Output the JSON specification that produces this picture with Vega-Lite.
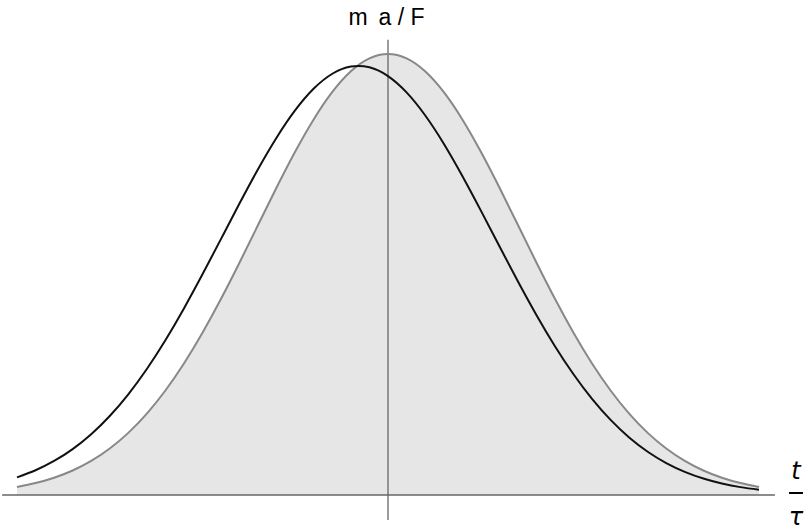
{
  "$schema": "https://vega.github.io/schema/vega-lite/v6.json",
  "width": 808,
  "height": 530,
  "padding": 0,
  "autosize": "none",
  "background": "white",
  "config": {"view": {"stroke": null}},
  "datasets": {
    "curves": [
      {"t": -2.0, "g": 0.01832, "b": 0.0400},
      {"t": -1.9, "g": 0.02705, "b": 0.0561},
      {"t": -1.8, "g": 0.03916, "b": 0.0771},
      {"t": -1.7, "g": 0.05558, "b": 0.1041},
      {"t": -1.6, "g": 0.07730, "b": 0.1378},
      {"t": -1.5, "g": 0.10540, "b": 0.1791},
      {"t": -1.4, "g": 0.14086, "b": 0.2284},
      {"t": -1.3, "g": 0.18452, "b": 0.2858},
      {"t": -1.2, "g": 0.23693, "b": 0.3510},
      {"t": -1.1, "g": 0.29820, "b": 0.4231},
      {"t": -1.0, "g": 0.36788, "b": 0.5004},
      {"t": -0.9, "g": 0.44486, "b": 0.5807},
      {"t": -0.8, "g": 0.52729, "b": 0.6614},
      {"t": -0.7, "g": 0.61263, "b": 0.7392},
      {"t": -0.6, "g": 0.69768, "b": 0.8107},
      {"t": -0.5, "g": 0.77880, "b": 0.8725},
      {"t": -0.4, "g": 0.85214, "b": 0.9216},
      {"t": -0.3, "g": 0.91393, "b": 0.9552},
      {"t": -0.2, "g": 0.96079, "b": 0.9715},
      {"t": -0.1, "g": 0.99005, "b": 0.9697},
      {"t": 0.0, "g": 1.0, "b": 0.9498},
      {"t": 0.1, "g": 0.99005, "b": 0.9129},
      {"t": 0.2, "g": 0.96079, "b": 0.8611},
      {"t": 0.3, "g": 0.91393, "b": 0.7971},
      {"t": 0.4, "g": 0.85214, "b": 0.7240},
      {"t": 0.5, "g": 0.77880, "b": 0.6454},
      {"t": 0.6, "g": 0.69768, "b": 0.5645},
      {"t": 0.7, "g": 0.61263, "b": 0.4846},
      {"t": 0.8, "g": 0.52729, "b": 0.4082},
      {"t": 0.9, "g": 0.44486, "b": 0.3374},
      {"t": 1.0, "g": 0.36788, "b": 0.2737},
      {"t": 1.1, "g": 0.29820, "b": 0.2179},
      {"t": 1.2, "g": 0.23693, "b": 0.1702},
      {"t": 1.3, "g": 0.18452, "b": 0.1305},
      {"t": 1.4, "g": 0.14086, "b": 0.0981},
      {"t": 1.5, "g": 0.10540, "b": 0.0724},
      {"t": 1.6, "g": 0.07730, "b": 0.0525},
      {"t": 1.7, "g": 0.05558, "b": 0.0373},
      {"t": 1.8, "g": 0.03916, "b": 0.0260},
      {"t": 1.9, "g": 0.02705, "b": 0.0178},
      {"t": 2.0, "g": 0.01832, "b": 0.0120}
    ],
    "one": [{}]
  },
  "layer": [
    {
      "data": {"name": "curves"},
      "mark": {"type": "area", "color": "#e6e6e6", "interpolate": "natural"},
      "encoding": {
        "x": {"field": "t", "type": "quantitative", "scale": {"domain": [-2.0916, 2.2642], "nice": false, "zero": false}, "axis": null},
        "y": {"field": "g", "type": "quantitative", "scale": {"domain": [-0.0794, 1.1224], "nice": false, "zero": false}, "axis": null},
        "y2": {"datum": 0}
      }
    },
    {
      "data": {"name": "one"},
      "mark": {"type": "rule", "color": "#666666", "strokeWidth": 1.3},
      "encoding": {
        "x": {"datum": -2.08, "type": "quantitative"},
        "x2": {"datum": 2.086},
        "y": {"datum": 0, "type": "quantitative"}
      }
    },
    {
      "data": {"name": "one"},
      "mark": {"type": "rule", "color": "#666666", "strokeWidth": 1.3},
      "encoding": {
        "x": {"datum": 0, "type": "quantitative"},
        "y": {"datum": -0.057, "type": "quantitative"},
        "y2": {"datum": 1.032}
      }
    },
    {
      "data": {"name": "curves"},
      "mark": {"type": "line", "color": "#888888", "strokeWidth": 2, "interpolate": "natural"},
      "encoding": {
        "x": {"field": "t", "type": "quantitative"},
        "y": {"field": "g", "type": "quantitative"}
      }
    },
    {
      "data": {"name": "curves"},
      "mark": {"type": "line", "color": "#111111", "strokeWidth": 2, "interpolate": "natural"},
      "encoding": {
        "x": {"field": "t", "type": "quantitative"},
        "y": {"field": "b", "type": "quantitative"}
      }
    },
    {
      "data": {"name": "one"},
      "mark": {"type": "text", "text": "m \u2009a / F", "font": "Liberation Sans", "fontSize": 23, "color": "#000000", "align": "center", "baseline": "alphabetic"},
      "encoding": {
        "x": {"datum": -0.008, "type": "quantitative"},
        "y": {"datum": 1.066, "type": "quantitative"}
      }
    },
    {
      "data": {"name": "one"},
      "mark": {"type": "text", "text": "t", "font": "DejaVu Sans", "fontStyle": "italic", "fontSize": 24, "color": "#000000", "align": "center", "baseline": "alphabetic"},
      "encoding": {
        "x": {"datum": 2.1995, "type": "quantitative"},
        "y": {"datum": 0.0363, "type": "quantitative"}
      }
    },
    {
      "data": {"name": "one"},
      "mark": {"type": "rule", "color": "#000000", "strokeWidth": 2},
      "encoding": {
        "x": {"datum": 2.162, "type": "quantitative"},
        "x2": {"datum": 2.237},
        "y": {"datum": 0.0045, "type": "quantitative"}
      }
    },
    {
      "data": {"name": "one"},
      "mark": {"type": "text", "text": "τ", "font": "DejaVu Sans", "fontStyle": "italic", "fontSize": 24, "color": "#000000", "align": "center", "baseline": "alphabetic"},
      "encoding": {
        "x": {"datum": 2.1995, "type": "quantitative"},
        "y": {"datum": -0.068, "type": "quantitative"}
      }
    }
  ]
}
